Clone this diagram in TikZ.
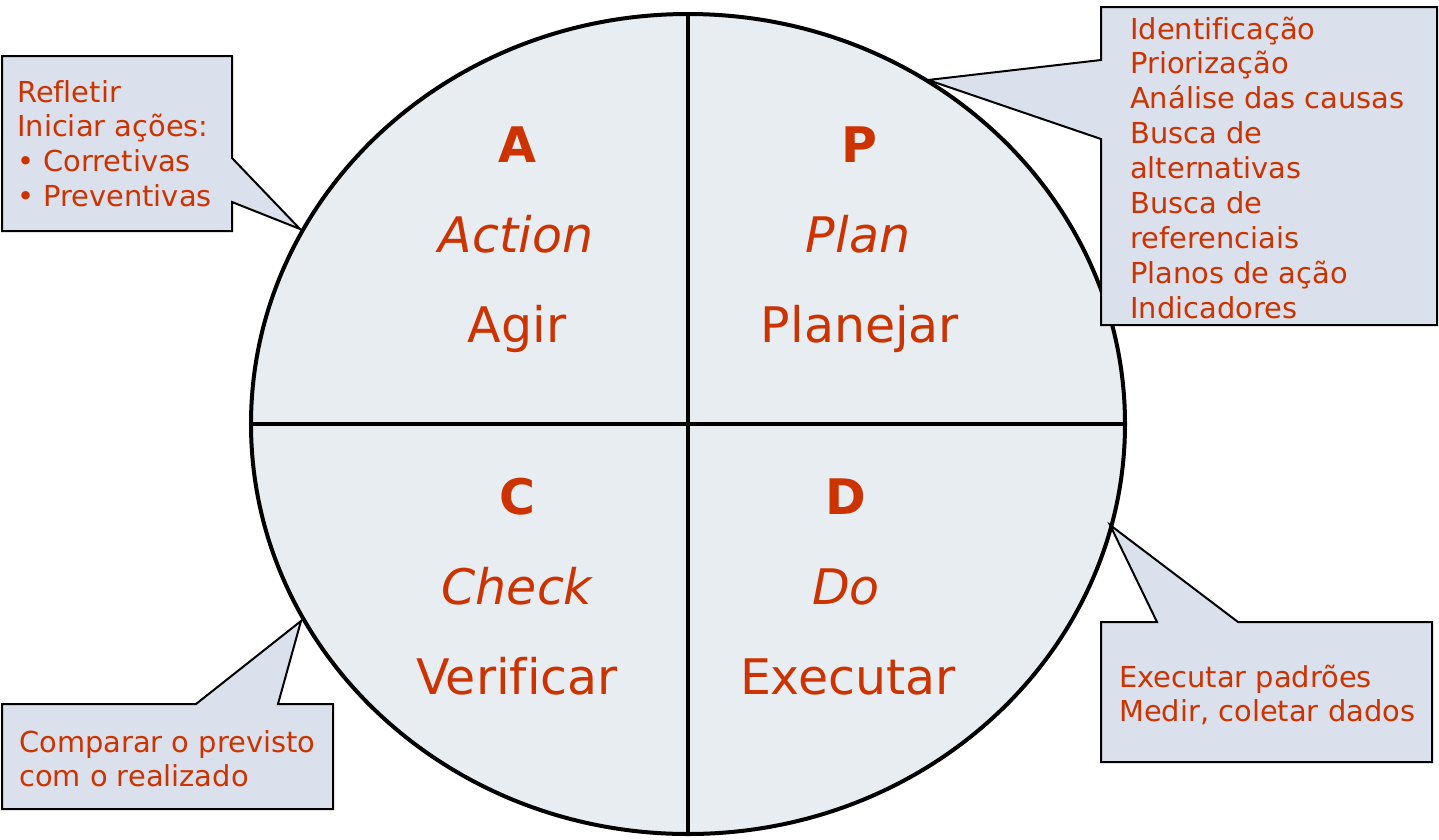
\documentclass[tikz,border=0pt]{standalone}
\usepackage{fontspec}
\setmainfont[Ligatures=NoCommon]{DejaVu Sans}
\usetikzlibrary{shapes.geometric}
\definecolor{txt}{RGB}{204,51,0}
\definecolor{circfill}{RGB}{232,237,242}
\definecolor{callfill}{RGB}{219,225,236}
\begin{document}
\begin{tikzpicture}[x=1pt,y=-1pt,
  callout/.style={draw=black, line width=2pt, fill=callfill, line join=miter},
  small/.style={anchor=base west, inner sep=0pt, text=txt, font=\fontsize{28.9}{34}\selectfont},
  big/.style={anchor=base, inner sep=0pt, text=txt, font=\fontsize{49}{58}\selectfont},
  divider/.style={line width=4pt}]
\useasboundingbox (0,0) rectangle (1439,839);
% cycle
\node[ellipse, draw, line width=4pt, fill=circfill, minimum width=874pt, minimum height=820pt, inner sep=0pt] (cyc) at (688,424) {};
\draw[divider] (cyc.north) -- (cyc.south);
\draw[divider] (cyc.west) -- (cyc.east);
% callouts
\draw[callout] (2,56) -- (232,56) -- (232,158) -- (300,229) -- (232,202) -- (232,231) -- (2,231) -- cycle;
\draw[callout] (1101,7) -- (1437,7) -- (1437,325) -- (1101,325) -- (1101,139) -- (928,80) -- (1101,60) -- cycle;
\draw[callout] (2,704) -- (196,704) -- (301,621) -- (278,704) -- (333,704) -- (333,809) -- (2,809) -- cycle;
\draw[callout] (1101,622) -- (1157,622) -- (1110,525) -- (1238,622) -- (1432,622) -- (1432,762) -- (1101,762) -- cycle;
% quadrant texts
\node[big] (pA) at (517,162) {\bfseries A};
\node[big] (pAe) at (516,252) {\itshape Action};
\node[big] (pAp) at (517,342) {Agir};
\node[big] (pP) at (859,162) {\bfseries P};
\node[big] (pPe) at (858,252) {\itshape Plan};
\node[big] (pPp) at (860,342) {Planejar};
\node[big] (pC) at (517,514) {\bfseries C};
\node[big] (pCe) at (517,604) {\itshape Check};
\node[big] (pCp) at (517,694) {Verificar};
\node[big] (pD) at (846,514) {\bfseries D};
\node[big] (pDe) at (846,604) {\itshape Do};
\node[big] (pDp) at (848,694) {Executar};
% callout texts
\foreach \t [count=\i] in {Refletir, Iniciar ações:, • Corretivas, • Preventivas}
  \node[small] (a\i) at (17,{102+34.7*(\i-1)}) {\t};
\foreach \t [count=\i] in {Identificação, Priorização, Análise das causas, Busca de, alternativas, Busca de, referenciais, Planos de ação, Indicadores}
  \node[small] (p\i) at (1130,{39+34.9*(\i-1)}) {\t};
\foreach \t [count=\i] in {Executar padrões, {Medir, coletar dados}}
  \node[small] (d\i) at (1119,{687+34*(\i-1)}) {\t};
\foreach \t [count=\i] in {Comparar o previsto, com o realizado}
  \node[small] (c\i) at (19,{752+34*(\i-1)}) {\t};
\end{tikzpicture}
\end{document}
